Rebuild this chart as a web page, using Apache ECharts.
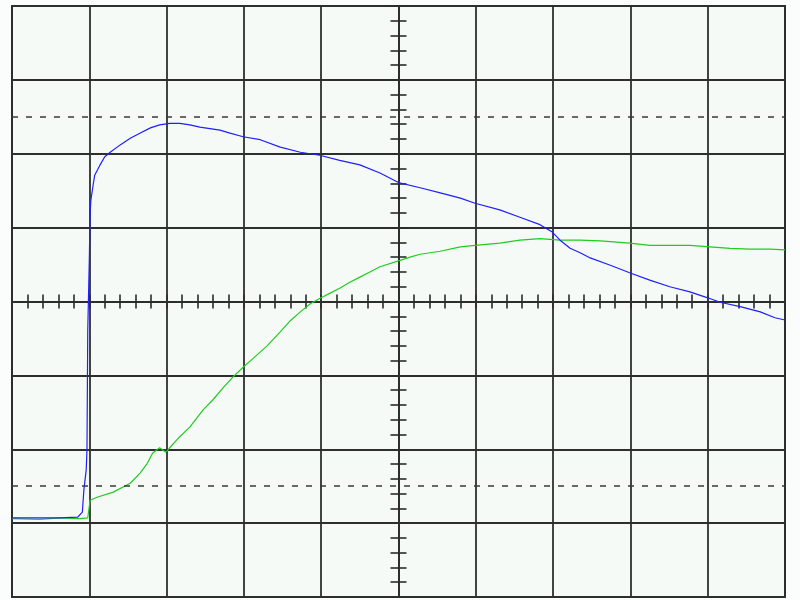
<!DOCTYPE html>
<html>
<head>
<meta charset="utf-8">
<script src="https://cdn.jsdelivr.net/npm/echarts@6/dist/echarts.min.js"></script>
<style>
html, body { margin: 0; padding: 0; background: #fbfdfc; }
#main { width: 800px; height: 600px; }
</style>
</head>
<body>
<div id="main"></div>
<script>
// screen is 10 x 8 divisions, trigger in the middle
var xRange = [-5, 5];
var yRange = [-4, 4];
var dashLevels = [2.5, -2.5];

// channel traces, [time div, volts div]
var blueTrace = [
  [-5, -2.93], [-4.64, -2.93], [-4.38, -2.93], [-4.15, -2.92], [-4.09, -2.85], [-4.07, -2.55],
  [-4.04, -2.28], [-4.03, -2.01], [-4.02, -0.39], [-4.00, 0.56], [-3.99, 1.17], [-3.98, 1.37],
  [-3.95, 1.58], [-3.93, 1.71], [-3.86, 1.85], [-3.80, 1.96], [-3.73, 2.02], [-3.60, 2.12],
  [-3.47, 2.21], [-3.34, 2.28], [-3.21, 2.35], [-3.09, 2.39], [-2.96, 2.41], [-2.83, 2.41],
  [-2.70, 2.39], [-2.57, 2.36], [-2.31, 2.32], [-2.18, 2.28], [-2.01, 2.23], [-1.79, 2.19],
  [-1.53, 2.09], [-1.27, 2.02], [-1.02, 1.98], [-0.76, 1.91], [-0.50, 1.85], [-0.24, 1.74],
  [0, 1.61], [0.28, 1.54], [0.54, 1.47], [0.80, 1.40], [0.99, 1.33], [1.31, 1.24],
  [1.57, 1.14], [1.83, 1.04], [1.99, 0.94], [2.09, 0.83], [2.22, 0.72], [2.35, 0.66],
  [2.48, 0.59], [2.74, 0.49], [2.99, 0.39], [3.25, 0.29], [3.51, 0.20], [3.77, 0.13],
  [4.00, 0.05], [4.16, -0.01], [4.42, -0.07], [4.68, -0.14], [4.87, -0.22], [5, -0.25]
];
var greenTrace = [
  [-5, -2.94], [-4.64, -2.95], [-4.38, -2.93], [-4.12, -2.94], [-4.02, -2.93], [-3.99, -2.69],
  [-3.90, -2.65], [-3.69, -2.58], [-3.47, -2.46], [-3.34, -2.32], [-3.25, -2.19], [-3.18, -2.05],
  [-3.09, -1.98], [-3.01, -2.04], [-2.96, -1.98], [-2.83, -1.83], [-2.70, -1.70], [-2.53, -1.47],
  [-2.40, -1.33], [-2.27, -1.17], [-2.14, -1.02], [-2.01, -0.89], [-1.88, -0.77], [-1.70, -0.60],
  [-1.53, -0.41], [-1.40, -0.26], [-1.27, -0.14], [-1.14, -0.03], [-1.02, 0.04], [-0.89, 0.11],
  [-0.76, 0.18], [-0.63, 0.26], [-0.50, 0.33], [-0.37, 0.40], [-0.24, 0.47], [0, 0.55],
  [0.15, 0.60], [0.28, 0.64], [0.54, 0.68], [0.80, 0.74], [0.99, 0.76], [1.31, 0.79],
  [1.57, 0.83], [1.83, 0.85], [2.09, 0.83], [2.35, 0.83], [2.61, 0.82], [2.99, 0.79],
  [3.25, 0.76], [3.51, 0.76], [3.77, 0.76], [4.03, 0.74], [4.29, 0.72], [4.55, 0.71],
  [4.81, 0.71], [5, 0.70]
];

var gridColor = "#2e2e2e";

function centreAxis(dim, pos, len, withGrid) {
  var ax = {
    type: "value",
    position: pos,
    min: dim == "x" ? xRange[0] : yRange[0],
    max: dim == "x" ? xRange[1] : yRange[1],
    interval: 1,
    axisLine: { show: true, onZero: true, onZeroAxisIndex: 0, lineStyle: { color: gridColor, width: 1.5 } },
    axisTick: { show: true, length: len, lineStyle: { color: gridColor, width: 1.5 } },
    minorTick: { show: true, splitNumber: 5, length: len, lineStyle: { color: "#2a2a2a", width: 1.6 } },
    axisLabel: { show: false },
    splitLine: { show: withGrid, lineStyle: { color: gridColor, width: 1.8 } }
  };
  return ax;
}

var myChart = echarts.init(document.getElementById("main"));
myChart.setOption({
  animation: false,
  grid: {
    left: 12, right: 15, top: 6, bottom: 3,
    show: true,
    backgroundColor: "#f5faf7",
    borderColor: gridColor,
    borderWidth: 2
  },
  xAxis: [centreAxis("x", "bottom", 7, true), centreAxis("x", "top", 7, false)],
  yAxis: [centreAxis("y", "left", 8, true), centreAxis("y", "right", 8, false)],
  series: [
    {
      name: "CH2",
      type: "line",
      data: greenTrace,
      showSymbol: false,
      silent: true,
      lineStyle: { color: "#1fcc1f", width: 1.2 },
      markLine: {
        silent: true,
        symbol: ["none", "none"],
        label: { show: false },
        lineStyle: { color: "#3a3a3a", type: [6, 8], width: 1.5 },
        data: dashLevels.map(function (v) { return { yAxis: v }; })
      }
    },
    {
      name: "CH1",
      type: "line",
      data: blueTrace,
      showSymbol: false,
      silent: true,
      lineStyle: { color: "#1f1fff", width: 1.2 }
    }
  ]
});
</script>
</body>
</html>
